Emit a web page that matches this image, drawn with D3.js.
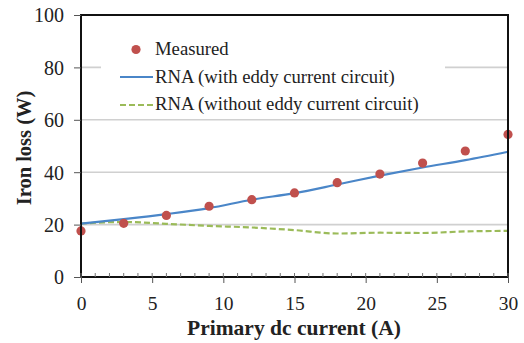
<!DOCTYPE html>
<html><head><meta charset="utf-8">
<script src="https://cdn.jsdelivr.net/npm/d3@7"></script>
<style>body{margin:0;background:#fff}svg{display:block}text{font-family:"Liberation Serif","Times New Roman",serif;fill:#222}</style>
</head><body><svg id="c" width="524" height="343"></svg>
<script>
const xValues = [0,3,6,9,12,15,18,21,24,27,30];
const measured = [17.6,20.5,23.5,27.0,29.5,32.1,36.0,39.3,43.5,48.1,54.4];
const rnaWith = [20.4,22.1,24.0,26.3,29.5,32.0,35.3,38.7,41.8,44.6,47.8];
const rnaWithout = [20.4,21.0,20.3,19.5,18.9,17.9,16.6,16.9,16.8,17.4,17.6];
const yTicks = [0,20,40,60,80,100];
const xTicks = [0,5,10,15,20,25,30];
const legendLabels = ["Measured","RNA (with eddy current circuit)","RNA (without eddy current circuit)"];
const xTitle = "Primary dc current (A)";
const yTitle = "Iron loss (W)";

const svg = d3.select("#c");
const L=81,R=508,T=15,B=277;
const x = d3.scaleLinear().domain([0,30]).range([L,R]);
const y = d3.scaleLinear().domain([0,100]).range([B,T]);
const FONT = "Liberation Serif";

// gridlines
svg.append("g").selectAll("line").data(yTicks.filter(d=>d>0&&d<100)).join("line")
  .attr("x1",L).attr("x2",R).attr("y1",d=>y(d)).attr("y2",d=>y(d))
  .attr("stroke","#d0d0d0").attr("stroke-width",1.6);

// legend box (covers gridline)
svg.append("rect").attr("x",101).attr("y",32).attr("width",344).attr("height",84).attr("fill","#fff");

// lines
const line = d3.line().x((d,i)=>x(xValues[i])).y(d=>y(d)).curve(d3.curveMonotoneX);
svg.append("path").datum(rnaWithout).attr("d",line).attr("fill","none")
  .attr("stroke","#9BBB59").attr("stroke-width",2.2).attr("stroke-dasharray","6,3");
svg.append("path").datum(rnaWith).attr("d",line).attr("fill","none")
  .attr("stroke","#4A86C8").attr("stroke-width",2.2);

// points
svg.append("g").selectAll("circle").data(measured).join("circle")
  .attr("cx",(d,i)=>x(xValues[i])).attr("cy",d=>y(d)).attr("r",4.6).attr("fill","#C0504D");

// frame
svg.append("rect").attr("x",L).attr("y",T).attr("width",R-L).attr("height",B-T)
  .attr("fill","none").attr("stroke","#111").attr("stroke-width",2);

// y axis
const ya = svg.append("g").attr("transform",`translate(${L},0)`)
  .call(d3.axisLeft(y).tickValues(yTicks).tickSize(7).tickPadding(10));
ya.select(".domain").remove();
ya.selectAll("line").attr("stroke","#555");
ya.selectAll("text").style("font-size","20px").style("font-family",FONT).attr("fill","#222").attr("dy","0.34em");

// x axis minor ticks inside
svg.append("g").selectAll("line").data(d3.range(0,31)).join("line")
  .attr("x1",d=>x(d)).attr("x2",d=>x(d)).attr("y1",B).attr("y2",B-4)
  .attr("stroke","#777").attr("stroke-width",1);
const xa = svg.append("g").attr("transform",`translate(0,${B})`)
  .call(d3.axisBottom(x).tickValues(xTicks).tickSize(6).tickPadding(13));
xa.select(".domain").remove();
xa.selectAll("line").attr("stroke","#555");
xa.selectAll("text").style("font-size","19.5px").style("font-family",FONT).attr("fill","#222");

// titles
svg.append("text").attr("x",294).attr("y",335).attr("text-anchor","middle")
  .style("font-size","21.5px").style("font-weight","bold").text(xTitle);
svg.append("text").attr("transform","translate(31,148) rotate(-90)").attr("text-anchor","middle")
  .style("font-size","20.5px").style("font-weight","bold").text(yTitle);

// legend
const lg = svg.append("g");
lg.append("circle").attr("cx",136).attr("cy",49.5).attr("r",4.6).attr("fill","#C0504D");
lg.append("line").attr("x1",120).attr("x2",153).attr("y1",77).attr("y2",77).attr("stroke","#4A86C8").attr("stroke-width",2.2);
lg.append("line").attr("x1",120).attr("x2",153).attr("y1",105).attr("y2",105).attr("stroke","#9BBB59").attr("stroke-width",2.2).attr("stroke-dasharray","6,3");
lg.selectAll("text").data(legendLabels).join("text")
  .attr("x",155).attr("y",(d,i)=>55+i*27.5).style("font-size","18.7px").text(d=>d);
</script></body></html>
